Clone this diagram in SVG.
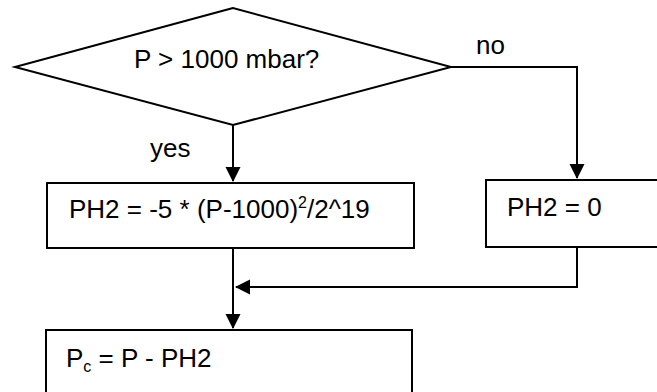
<svg xmlns="http://www.w3.org/2000/svg" width="657" height="392" viewBox="0 0 657 392">
<style>
.s{fill:#fff;stroke:#000;stroke-width:2}
.c{fill:none;stroke:#000;stroke-width:2}
text{font-family:"Liberation Sans",Arial,sans-serif;font-size:26px;fill:#000}
.sm{font-size:16px}
</style>
<defs>
<marker id="ah" markerUnits="userSpaceOnUse" markerWidth="16" markerHeight="16" viewBox="0 0 16 16" refX="14" refY="8" orient="auto">
<path d="M0,0.5 L15,8 L0,15.5 Z" fill="#000"/>
</marker>
</defs>
<rect width="657" height="392" fill="#fff"/>
<g id="connectors">
<line class="c" x1="233" y1="125" x2="233" y2="181" marker-end="url(#ah)"/>
<polyline class="c" points="451,67 577,67 577,178" marker-end="url(#ah)"/>
<line class="c" x1="233" y1="248" x2="233" y2="328" marker-end="url(#ah)"/>
<polyline class="c" points="577,247 577,287 236,287" marker-end="url(#ah)"/>
</g>
<g id="decision">
<polygon class="s" points="233,8 15,67 233,125 451,67"/>
<text x="134" y="68">P &gt; 1000 mbar?</text>
</g>
<g id="label-no"><text x="476" y="54">no</text></g>
<g id="label-yes"><text x="150" y="157">yes</text></g>
<g id="calc">
<rect class="s" x="47" y="183" width="367" height="65"/>
<text x="69" y="218">PH2 = -5 * (P-1000)<tspan class="sm" dy="-10">2</tspan><tspan dy="10">/2^19</tspan></text>
</g>
<g id="zero">
<rect class="s" x="486" y="180" width="190" height="67"/>
<text x="507" y="216">PH2 = 0</text>
</g>
<g id="result">
<rect class="s" x="46" y="330" width="366" height="80"/>
<text x="66" y="367">P<tspan class="sm" dy="5">c</tspan><tspan dy="-5"> = P - PH2</tspan></text>
</g>
</svg>
